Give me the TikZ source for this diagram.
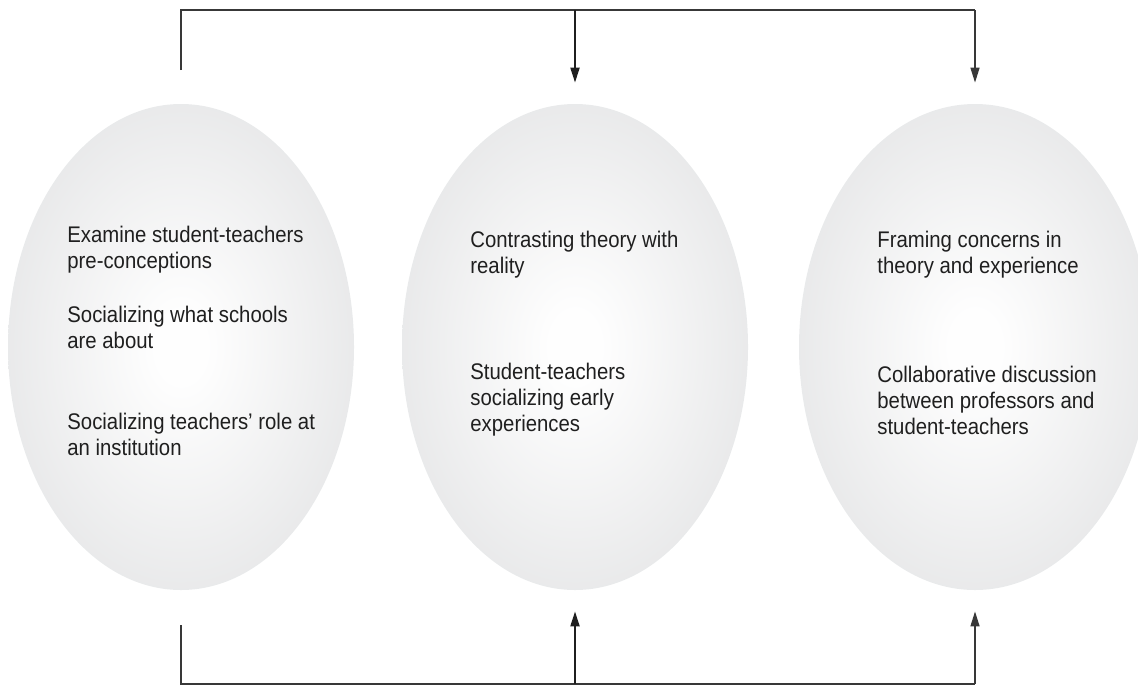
\documentclass[tikz,border=0pt]{standalone}
\usepackage{fontspec}
\setmainfont[FakeStretch=0.9]{Liberation Sans}
\usepackage{tikz}
\usepackage{xcolor}
\usetikzlibrary{shapes.geometric,arrows.meta}
\definecolor{EggGray}{RGB}{209,210,212}
\colorlet{EggCenter}{white!97!EggGray}
\colorlet{TextGray}{black!88}
\colorlet{LineGray}{black!78}
\pgfdeclareradialshading{eggShading}{\pgfpoint{0bp}{0bp}}{color(0bp)=(EggCenter); color(4bp)=(EggCenter); color(50bp)=(EggGray); color(100bp)=(EggGray)}
\tikzstyle{eggNode}=[ellipse, shading=eggShading, minimum width=173pt, minimum height=243pt, inner sep=0pt]
\tikzstyle{stageText}=[anchor=west, align=left, inner sep=0pt, text=TextGray, font=\fontsize{11.3}{13}\selectfont]
\tikzstyle{linkLine}=[LineGray, line width=0.7pt]
\tikzstyle{linkArrow}=[-{Triangle[length=7.5pt,width=4.5pt]}, black!88, line width=1pt, shorten >=10.5pt]

\begin{document}
\begin{tikzpicture}[x=0.5pt,y=-0.5pt]
        \useasboundingbox (0,0) rectangle (1138,686);

        % Stages
        \node[eggNode] (e1) at (181,347) {};
        \node[eggNode] (e2) at (575,347) {};
        \node[eggNode, minimum width=176pt] (e3) at (975,347) {};

        % Stage one
        \node[stageText] (s11) at (67,250) {Examine student-teachers\\pre-conceptions};
        \node[stageText] (s12) at (67,327) {Socializing what schools\\are about};
        \node[stageText] (s13) at (67,434) {Socializing teachers’ role at\\an institution};

        % Stage two
        \node[stageText] (s21) at (470,255) {Contrasting theory with\\reality};
        \node[stageText] (s22) at (470,400) {Student-teachers\\socializing early\\experiences};

        % Stage three
        \node[stageText] (s31) at (877,255) {Framing concerns in\\theory and experience};
        \node[stageText] (s32) at (877,400) {Collaborative discussion\\between professors and\\student-teachers};

        % Top loop
        \coordinate (topStart) at (181,70);
        \coordinate (topLine) at (181,10);
        \draw[linkLine] (topStart) -- (topLine) -- (topLine -| e3.north);
        \draw[linkArrow] (topLine -| e2.north) -- (e2.north);
        \draw[linkArrow, linkLine] (topLine -| e3.north) -- (e3.north);

        % Bottom loop
        \coordinate (botStart) at (181,625);
        \coordinate (botLine) at (181,684);
        \draw[linkLine] (botStart) -- (botLine) -- (botLine -| e3.south);
        \draw[linkArrow] (botLine -| e2.south) -- (e2.south);
        \draw[linkArrow, linkLine] (botLine -| e3.south) -- (e3.south);

    \end{tikzpicture}
\end{document}
